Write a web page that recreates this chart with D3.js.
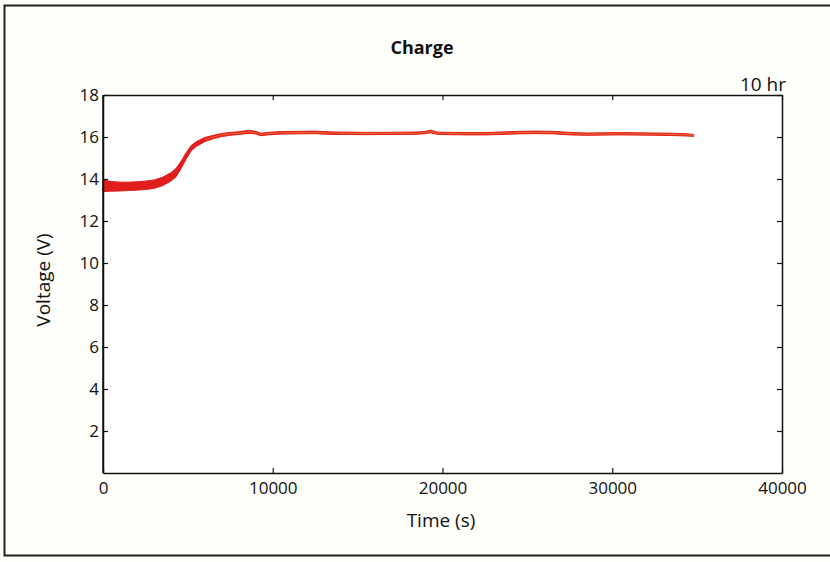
<!DOCTYPE html>
<html>
<head>
    <meta charset="utf-8">
    <title>Charge</title>
    <script src="https://d3js.org/d3.v7.min.js"></script>
    <style>
        body { margin: 0; background: #fdfdf9; }
        text { font-family: "Open Sans", "Noto Sans", sans-serif; fill: #111; }
        .axis path, .axis line { stroke: #111; }
        .axis .tick text { font-size: 17px; font-family: "Open Sans", sans-serif; }
    </style>
</head>
<body>
<svg width="830" height="562"></svg>
<script>
    // 时间 (s) 与电压上下包络 (V)
    var time = [0, 500, 1000, 1500, 2000, 2500, 3000, 3500, 4000, 4300, 4600, 4900, 5200, 5500,
        6000, 6500, 7000, 7500, 8000, 8600, 9000, 9300, 9700, 10500, 11500, 12500, 13500, 14500,
        15500, 16500, 17500, 18500, 19000, 19300, 19700, 20500, 21500, 22500, 23500, 24500, 25500,
        26500, 27500, 28500, 29500, 30500, 31500, 32500, 33500, 34300, 34800];
    var vLow = [13.40, 13.42, 13.43, 13.45, 13.47, 13.50, 13.55, 13.68, 13.90, 14.10, 14.50, 14.95, 15.35, 15.55,
        15.78, 15.92, 16.02, 16.08, 16.12, 16.18, 16.14, 16.06, 16.10, 16.14, 16.15, 16.16, 16.12, 16.12,
        16.11, 16.12, 16.12, 16.13, 16.16, 16.20, 16.12, 16.11, 16.10, 16.10, 16.12, 16.15, 16.16,
        16.15, 16.10, 16.08, 16.09, 16.10, 16.09, 16.08, 16.07, 16.05, 16.03];
    var vHigh = [13.95, 13.88, 13.85, 13.85, 13.87, 13.90, 13.95, 14.08, 14.30, 14.50, 14.85, 15.25, 15.60, 15.78,
        15.98, 16.08, 16.17, 16.22, 16.25, 16.32, 16.27, 16.18, 16.22, 16.26, 16.27, 16.28, 16.24, 16.23,
        16.22, 16.22, 16.23, 16.24, 16.27, 16.33, 16.23, 16.22, 16.21, 16.21, 16.24, 16.27, 16.28,
        16.27, 16.22, 16.19, 16.20, 16.21, 16.20, 16.19, 16.18, 16.16, 16.12];
    var xTicks = [0, 10000, 20000, 30000, 40000];
    var yTicks = [2, 4, 6, 8, 10, 12, 14, 16, 18];

    var data = time.map(function (t, i) {
        return { t: t, lo: vLow[i], hi: vHigh[i] };
    });

    var svg = d3.select("svg");
    var mLeft = 103, mRight = 782, mTop = 95, mBottom = 473;

    // 扫描件外框
    svg.append("rect")
        .attr("x", 4.5).attr("y", 5.5).attr("width", 835).attr("height", 550)
        .attr("fill", "#fdfdf9").attr("stroke", "#222").attr("stroke-width", 2);

    var x = d3.scaleLinear().domain([0, 40000]).range([mLeft, mRight]);
    var y = d3.scaleLinear().domain([0, 18]).range([mBottom, mTop]);

    svg.append("rect")
        .attr("x", mLeft).attr("y", mTop)
        .attr("width", mRight - mLeft).attr("height", mBottom - mTop)
        .attr("fill", "#fff");

    // 数据带
    svg.append("path")
        .datum(data)
        .attr("fill", "#e01e1e")
        .attr("stroke", "#e01e1e")
        .attr("stroke-width", 1)
        .attr("d", d3.area()
            .x(function (d) { return x(d.t); })
            .y0(function (d) { return y(d.lo); })
            .y1(function (d) { return y(d.hi); }));

    svg.append("path")
        .datum(data.filter(function (d) { return d.t >= 6000; }))
        .attr("fill", "none")
        .attr("stroke", "#f26a2a")
        .attr("stroke-width", 1)
        .attr("d", d3.line()
            .x(function (d) { return x(d.t); })
            .y(function (d) { return y((d.lo + d.hi) / 2); }));

    // 坐标轴 (刻度朝内)
    svg.append("g").attr("class", "axis")
        .attr("transform", "translate(0," + mBottom + ")")
        .call(d3.axisBottom(x).tickValues(xTicks).tickSizeInner(-5).tickSizeOuter(0).tickPadding(9)
            .tickFormat(d3.format("d")));
    svg.append("g").attr("class", "axis")
        .attr("transform", "translate(0," + mTop + ")")
        .call(d3.axisTop(x).tickValues(xTicks).tickSizeInner(-5).tickSizeOuter(0).tickFormat(""));
    svg.append("g").attr("class", "axis")
        .attr("transform", "translate(" + mLeft + ",0)")
        .call(d3.axisLeft(y).tickValues(yTicks).tickSizeInner(-5).tickSizeOuter(0).tickPadding(4));
    svg.append("g").attr("class", "axis")
        .attr("transform", "translate(" + mRight + ",0)")
        .call(d3.axisRight(y).tickValues(yTicks).tickSizeInner(-5).tickSizeOuter(0).tickFormat(""));

    svg.selectAll(".axis .domain").attr("stroke-width", 1.5);
    svg.selectAll(".axis .tick line").attr("stroke-width", 1.2);
    svg.append("line").attr("x1", mLeft).attr("x2", mLeft).attr("y1", mTop).attr("y2", mBottom)
        .attr("stroke", "#111").attr("stroke-width", 1.5);

    // 文字
    svg.append("text").attr("x", 422).attr("y", 54)
        .attr("text-anchor", "middle").style("font-size", "18px").style("font-weight", "bold")
        .text("Charge");
    svg.append("text").attr("x", 786).attr("y", 91)
        .attr("text-anchor", "end").style("font-size", "19px")
        .text("10 hr");
    svg.append("text").attr("x", 441).attr("y", 527)
        .attr("text-anchor", "middle").style("font-size", "19px")
        .text("Time (s)");
    svg.append("text")
        .attr("transform", "translate(50,280) rotate(-90)")
        .attr("text-anchor", "middle").style("font-size", "19px")
        .text("Voltage (V)");
</script>
</body>
</html>
